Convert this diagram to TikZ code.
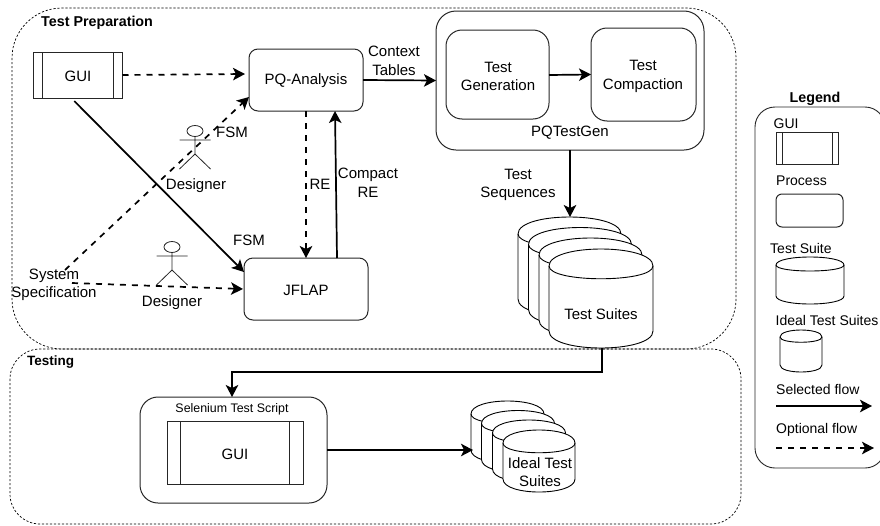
\documentclass[tikz,border=0pt]{standalone}
\usepackage{fontspec}
\setmainfont{Liberation Sans}
\usetikzlibrary{arrows.meta}
\tikzset{
 x=1pt,y=-1pt,
 txt/.style={inner sep=0pt,align=center,font=\fontsize{15}{18.5}\selectfont},
 ltxt/.style={inner sep=0pt,anchor=west,font=\fontsize{14}{17}\selectfont},
 btxt/.style={inner sep=0pt,font=\fontsize{14.3}{17}\selectfont\bfseries},
 boxr/.style={draw=black!85,line width=1pt,rounded corners=#1,inner sep=0pt,outer sep=0pt},
 boxr/.default=9pt,
 guibox/.style={draw=black!85,line width=1pt,inner sep=0pt,outer sep=0pt},
 bar/.style={draw=black!85,line width=0.9pt},
 region/.style={draw=black,line width=0.7pt,dash pattern=on 2.2pt off 1.8pt,rounded corners=50pt},
 cyl/.style={draw=black,line width=0.9pt,fill=white},
 actor/.style={draw=black!85,line width=0.8pt},
 flow/.style={draw=black,line width=1.7pt,-{Stealth[length=12pt,width=12.5pt,inset=3pt]}},
 optflow/.style={flow,dash pattern=on 6pt off 6pt},
}
\newcommand{\cylshape}[5]{% x y w h dy
 \pgfmathsetmacro{\cxa}{#1+#3}%
 \pgfmathsetmacro{\cyt}{#2+#5}%
 \pgfmathsetmacro{\cytc}{#2-#5/3}%
 \pgfmathsetmacro{\cytd}{#2+2*#5}%
 \pgfmathsetmacro{\cyb}{#2+#4-#5}%
 \pgfmathsetmacro{\cybc}{#2+#4+#5/3}%
 \draw[cyl] (#1,\cyt) .. controls (#1,\cytc) and (\cxa,\cytc) .. (\cxa,\cyt) -- (\cxa,\cyb) .. controls (\cxa,\cybc) and (#1,\cybc) .. (#1,\cyb) -- cycle;
 \draw[cyl,fill=none] (#1,\cyt) .. controls (#1,\cytd) and (\cxa,\cytd) .. (\cxa,\cyt);
}
\newcommand{\actorshape}[2]{% head centre x y
 \draw[actor] (#1,#2) ellipse [x radius=8pt,y radius=5.5pt];
 \draw[actor] (#1,#2+5.5) -- (#1,#2+23) (#1-15.5,#2+9) -- (#1+15.5,#2+9) (#1-15.5,#2+38) -- (#1,#2+23) -- (#1+15.5,#2+38);
}
\begin{document}
\begin{tikzpicture}
\useasboundingbox (0,0) rectangle (880,525);
% regions
\draw[region] (12,8) rectangle (736,349);
\draw[region,rounded corners=30pt] (10,349) rectangle (741,524);
\node[btxt,anchor=west] (tprep) at (41,23) {Test Preparation};
\node[btxt,anchor=west,font=\fontsize{13.5}{16}\selectfont\bfseries] (ttest) at (27,362) {Testing};
% top boxes
\node[guibox,minimum width=89.5pt,minimum height=46pt] (gui) at (77.75,75) {};
\draw[bar] ([xshift=9.5pt]gui.north west) -- ([xshift=9.5pt]gui.south west);
\draw[bar] ([xshift=-9.5pt]gui.north east) -- ([xshift=-9.5pt]gui.south east);
\node[txt] (guit) at (78,76) {GUI};
\node[boxr,minimum width=114pt,minimum height=62pt] (pq) at (306,80) {};
\node[txt] (pqt) at (306,81) {PQ-Analysis};
\node[boxr,minimum width=124pt,minimum height=62pt] (jf) at (306,289) {};
\node[txt] (jft) at (306,290) {JFLAP};
\node[boxr=20pt,minimum width=268pt,minimum height=139pt] (gen) at (570,80.5) {};
\node[boxr=16pt,minimum width=103pt,minimum height=89pt] (tg) at (497.5,74.5) {};
\node[boxr=16pt,minimum width=105pt,minimum height=93pt] (tc) at (643.5,74.5) {};
\node[txt] (tgt) at (498,76.5) {Test\\Generation};
\node[txt] (tct) at (643,76.5) {Test\\Compaction};
\node[txt] (gent) at (570,133) {PQTestGen};
% test suite stack
\cylshape{518}{217}{103}{99}{17}
\cylshape{528.5}{227.5}{103}{99}{17}
\cylshape{539}{238}{103}{99}{17}
\cylshape{549}{249}{104}{99}{17}
\coordinate (stop) at (570,217);
\coordinate (sbot) at (602,348);
\node[txt] (st) at (601,314) {Test Suites};
% actors
\actorshape{195}{131}
\actorshape{172}{247}
\node[txt] (d1) at (196,185.5) {Designer};
\node[txt] (d2) at (172,302.5) {Designer};
% labels
\node[txt] (ctx) at (394,61) {Context\\Tables};
\node[txt] (seq) at (518,185) {Test\\Sequences};
\node[txt] (f1) at (232,132.5) {FSM};
\node[txt] (f2) at (249,240.5) {FSM};
\node[txt] (re) at (320,184.5) {RE};
\node[txt] (cre) at (368,183) {Compact\\RE};
\node[txt] (spec) at (54,285) {System\\Specification};
% free ends
\coordinate (s1) at (65,270);
\coordinate (s2) at (72,283);
% top connectors
\draw[optflow] (gui.east) -- ([yshift=6pt,xshift=-4pt]pq.west);
\draw[optflow] (s1) -- ([yshift=-17pt]pq.west);
\draw[flow] ([xshift=-3.5pt]gui.south) ++(0,3) -- ([yshift=17pt]jf.west);
\draw[optflow] (s2) -- ([yshift=0pt,xshift=-1pt]jf.west);
\draw[optflow] (pq.south) -- (jf.north);
\draw[flow] ([xshift=31pt]jf.north) -- ([xshift=29pt]pq.south);
\draw[flow] (pq.east) -- (gen.west);
\draw[flow] ([yshift=-.5pt]tg.east) -- (tg.east -| tc.west);
\draw[flow] (gen.south) -- (stop);
% testing
\node[boxr=18pt,minimum width=187pt,minimum height=106pt] (sel) at (233.5,450) {};
\node[txt,font=\fontsize{12.4}{15}\selectfont] (selt) at (232,409) {Selenium Test Script};
\node[guibox,minimum width=136pt,minimum height=63pt] (gui2) at (235,452.5) {};
\draw[bar] ([xshift=13pt]gui2.north west) -- ([xshift=13pt]gui2.south west);
\draw[bar] ([xshift=-14pt]gui2.north east) -- ([xshift=-14pt]gui2.south east);
\node[txt] (gui2t) at (235,454) {GUI};
\cylshape{471}{401}{73}{62}{13}
\cylshape{481.5}{410.5}{73}{62}{13}
\cylshape{492.5}{420}{73}{62}{13}
\cylshape{503}{430}{72}{62}{13}
\coordinate (itop) at (473,450);
\node[txt] (it) at (540,472) {Ideal Test\\Suites};
\draw[flow] (sel.east) -- (itop);
\coordinate (bend1) at (602,372);
\coordinate (bend2) at (232,372);
\draw[flow] (sbot) -- (bend1) -- (bend2) -- (bend2 |- sel.north);
% legend
\node[btxt] (lg) at (815,98.5) {Legend};
\draw[draw=black!85,line width=0.9pt,rounded corners=20pt] (755,107) rectangle (885,468);
\node[ltxt] (l1) at (773.5,124) {GUI};
\node[guibox,line width=.9pt,minimum width=62pt,minimum height=32pt] (lgui) at (807,148) {};
\draw[bar] ([xshift=6pt]lgui.north west) -- ([xshift=6pt]lgui.south west);
\draw[bar] ([xshift=-6pt]lgui.north east) -- ([xshift=-6pt]lgui.south east);
\node[ltxt] (l2) at (776,181) {Process};
\node[boxr=6pt,minimum width=67pt,minimum height=33pt] (lp) at (809.5,210.5) {};
\node[ltxt] (l3) at (770,248) {Test Suite};
\cylshape{776}{257}{68}{47}{8}
\node[ltxt] (l4) at (775.5,320) {Ideal Test Suites};
\cylshape{780}{330}{42}{42}{7}
\node[ltxt] (l5) at (776,389) {Selected flow};
\coordinate (a1) at (776,406);
\coordinate (a2) at (872,406);
\draw[flow] (a1) -- (a2);
\node[ltxt] (l6) at (776,430) {Optional flow};
\coordinate (b1) at (776,448);
\coordinate (b2) at (874,448);
\draw[optflow] (b1) -- (b2);
\end{tikzpicture}
\end{document}
